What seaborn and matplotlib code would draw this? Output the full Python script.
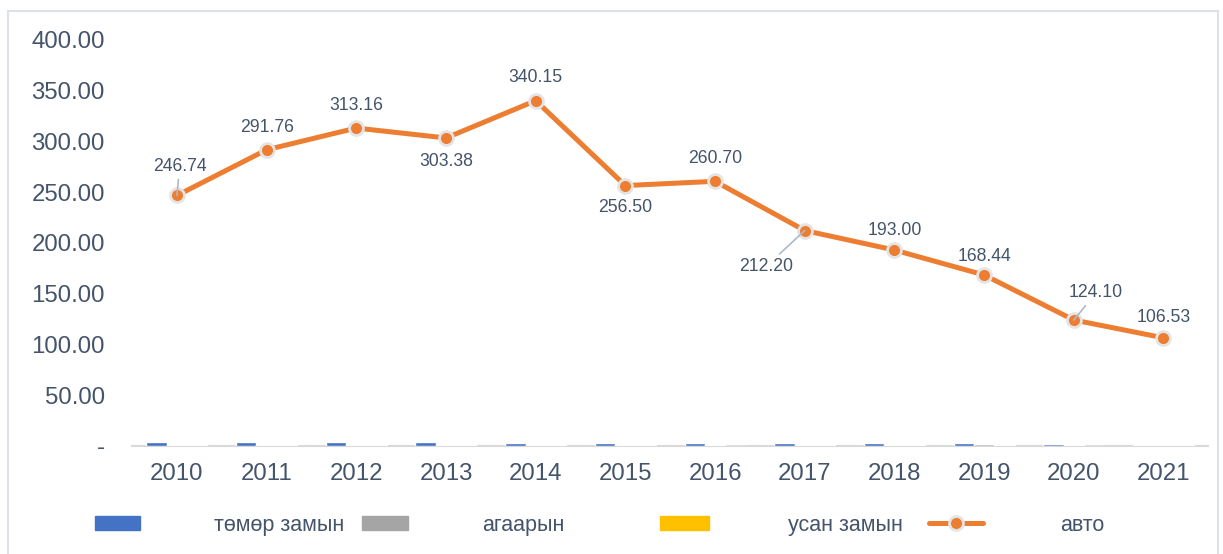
import pandas as pd
import seaborn as sns
import matplotlib.pyplot as plt
import numpy as np
from matplotlib.patches import Rectangle
from matplotlib.lines import Line2D

# Data
years = ['2010', '2011', '2012', '2013', '2014', '2015', '2016', '2017', '2018', '2019', '2020', '2021']
rail = [3.6, 3.5, 3.6, 3.5, 2.6, 2.6, 2.6, 2.6, 2.6, 2.7, 1.6, 0.6]
air = [1.0, 1.0, 1.0, 1.0, 1.0, 1.0, 1.0, 1.0, 1.0, 1.8, 0.9, 0.8]
water = [0.8, 0.8, 0.8, 0.8, 0.8, 0.8, 0.0, 0.8, 0.8, 0.8, 0.0, 0.8]
auto = [246.74, 291.76, 313.16, 303.38, 340.15, 256.50, 260.70, 212.20, 193.00, 168.44, 124.10, 106.53]
series_names = ['төмөр замын', 'агаарын', 'усан замын', 'авто']

# label offsets (points) and whether a leader line is drawn
offsets = [(2, 21), (0, 16), (0, 16), (0, -17), (0, 17), (0, -16), (0, 16.5),
           (-28, -26), (0, 14), (0, 13), (16, 19.5), (0, 14.5)]
leaders = [True, False, False, False, False, False, False, True, False, False, True, False]

txt = '#44546A'
colors = ['#4472C4', '#A5A5A5', '#FFC000']
orange = '#ED7D31'

sns.set_style('white')
plt.rcParams['font.family'] = ['Liberation Sans', 'DejaVu Sans']

df_bar = pd.DataFrame({'year': years * 3,
                       'value': rail + air + water,
                       'mode': [series_names[0]] * 12 + [series_names[1]] * 12 + [series_names[2]] * 12})
df_line = pd.DataFrame({'year': years, 'value': auto})

fig, ax = plt.subplots(figsize=(12.23, 5.54), dpi=100)
fig.subplots_adjust(left=0.108, right=0.988, bottom=0.195, top=0.928)

sns.barplot(data=df_bar, x='year', y='value', hue='mode', palette=colors,
            width=0.68, ax=ax, legend=False, saturation=1, zorder=3)
sns.pointplot(data=df_line, x='year', y='value', color=orange, errorbar=None, ax=ax,
              linewidth=3.6, markers='o', markersize=10, markeredgecolor='#E4E4E4',
              markeredgewidth=2)

for i, v in enumerate(auto):
    dx, dy = offsets[i]
    ap = dict(arrowstyle='-', color='#ADB9CA', lw=1.2, shrinkA=1, shrinkB=0) if leaders[i] else None
    ax.annotate(f'{v:.2f}', (i, v), xytext=(dx, dy), textcoords='offset points',
                ha='center', va='center', fontsize=12.7, color=txt, arrowprops=ap, zorder=5)

ax.set_ylim(0, 400)
ax.set_xlim(-0.5, 11.5)
ax.set_yticks(np.arange(0, 401, 50))
ax.set_yticklabels(['-'] + [f'{t:.2f}' for t in np.arange(50, 401, 50)])
ax.set_xlabel('')
ax.set_ylabel('')
ax.tick_params(axis='y', length=0, pad=19.5, labelsize=17.3, labelcolor=txt)
ax.tick_params(axis='x', length=0, pad=12, labelsize=17.3, labelcolor=txt)
for s in ['left', 'right', 'top']:
    ax.spines[s].set_visible(False)
ax.spines['bottom'].set_color('#D9D9D9')
ax.spines['bottom'].set_linewidth(1.5)
ax.spines['bottom'].set_zorder(1)

handles = [Rectangle((0, 0), 1, 1, color=c) for c in colors]
handles.append(Line2D([], [], color=orange, lw=3.6, marker='o', markersize=10,
                      markeredgecolor='#E4E4E4', markeredgewidth=2))
# one legend per entry, placed like the original's spaced-out legend row (pixels)
legend_x = [95, 362, 660, 929]
label_x = [214, 482, 788, 1060]
handle_w = [45, 46, 49, 54]
fs = 15.5
em = fs * 100 / 72
for h, name, lx, tx, hw in zip(handles, series_names, legend_x, label_x, handle_w):
    fig.legend([h], [name], loc='center left', bbox_to_anchor=(lx / 1223, 0.052),
               frameon=False, fontsize=fs, labelcolor=txt, handlelength=hw / em,
               handleheight=0.6, handletextpad=(tx - lx - hw) / em,
               borderpad=0, borderaxespad=0)

# thin outer frame
fig.patches.append(Rectangle((8 / 1223, -0.02), 1210 / 1223, 1 - 11 / 554 + 0.02,
                             transform=fig.transFigure, fill=False,
                             edgecolor='#DDE1E8', lw=1.5, clip_on=False))

fig.savefig('out.png', dpi=100)
